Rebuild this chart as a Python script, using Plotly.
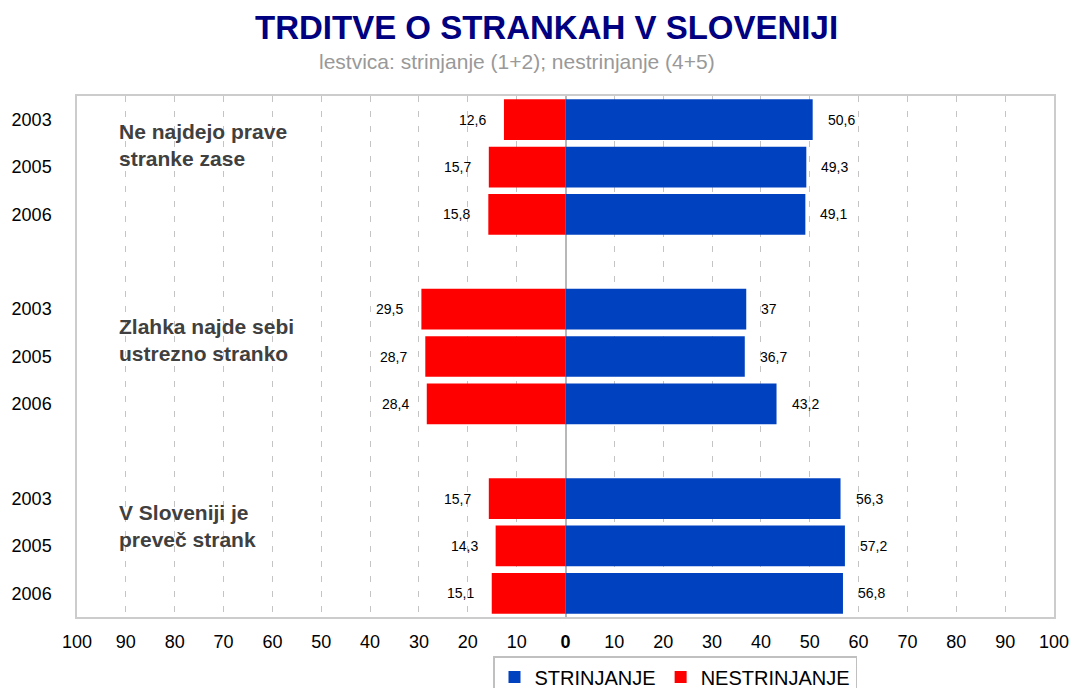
import plotly.graph_objects as go

# ---- data ----
groups = ["Ne najdejo prave<br>stranke zase",
          "Zlahka najde sebi<br>ustrezno stranko",
          "V Sloveniji je<br>preveč strank"]
years = ["2003", "2005", "2006"]
strinjanje = [50.6, 49.3, 49.1, 37, 36.7, 43.2, 56.3, 57.2, 56.8]
nestrinjanje = [12.6, 15.7, 15.8, 29.5, 28.7, 28.4, 15.7, 14.3, 15.1]
x_ticks = [-100, -90, -80, -70, -60, -50, -40, -30, -20, -10, 0,
           10, 20, 30, 40, 50, 60, 70, 80, 90, 100]

BLUE = "#0041C0"
RED = "#FF0000"
FONT = "Liberation Sans, Arial, sans-serif"

# row positions: three rows per group, one blank row between groups
ypos, ylab = [], []
for g in range(len(groups)):
    for i, yr in enumerate(years):
        ypos.append(g * 4 + i)
        ylab.append(yr)

def fmt(v):
    return ("%g" % v).replace(".", ",")

fig = go.Figure()
fig.add_trace(go.Bar(
    y=ypos, x=strinjanje, orientation="h", name="STRINJANJE",
    marker=dict(color=BLUE, line=dict(width=0)), width=0.86,
))
fig.add_trace(go.Bar(
    y=ypos, x=[-v for v in nestrinjanje], orientation="h", name="NESTRINJANJE",
    marker=dict(color=RED, line=dict(width=0)), width=0.86,
))

L, R, T, B = 77, 17, 96, 71
H = 688 - T - B
W = 1071 - L - R

annotations = []
for y, v in zip(ypos, strinjanje):
    annotations.append(dict(x=v, y=y, xref="x", yref="y", text=fmt(v),
                            showarrow=False, xanchor="left", xshift=13,
                            font=dict(size=14, color="#000000", family=FONT)))
for y, v in zip(ypos, nestrinjanje):
    annotations.append(dict(x=-v, y=y, xref="x", yref="y", text=fmt(v),
                            showarrow=False, xanchor="right", xshift=-16,
                            font=dict(size=14, color="#000000", family=FONT)))

group_y = [0.53, 4.65, 8.57]
for gy, gname in zip(group_y, groups):
    txt = "<b>" + gname.replace("<br>", "</b><br><b>") + "</b>"
    annotations.append(dict(x=-91.8, y=gy, xref="x", yref="y", text=txt,
                            showarrow=False, xanchor="left", yanchor="middle",
                            align="left",
                            font=dict(size=21, color="#404040", family=FONT)))

# title and subtitle (positions in pixels converted to paper coords)
annotations.append(dict(x=(546 - L) / W, y=1 + (T - 28) / H, xref="paper", yref="paper",
                        text="<b>TRDITVE O STRANKAH V SLOVENIJI</b>", yanchor="middle",
                        showarrow=False, font=dict(size=33, color="#000080", family=FONT)))
annotations.append(dict(x=(517 - L) / W, y=1 + (T - 62) / H, xref="paper", yref="paper",
                        text="lestvica: strinjanje (1+2); nestrinjanje (4+5)", yanchor="middle",
                        showarrow=False, font=dict(size=21, color="#999999", family=FONT)))

tick_text = [("<b>0</b>" if t == 0 else str(abs(t))) for t in x_ticks]

fig.update_layout(
    width=1071, height=688,
    margin=dict(l=L, r=R, t=T, b=B, autoexpand=False),
    paper_bgcolor="white", plot_bgcolor="white",
    barmode="overlay",
    font=dict(family=FONT, color="#000000"),
    showlegend=True,
    legend=dict(orientation="h", x=(493 - L) / W, y=(617 - 656) / H,
                xanchor="left", yanchor="top",
                bordercolor="#c0c0c0", borderwidth=1.5,
                font=dict(size=20, color="#000000", family=FONT),
                itemwidth=30, traceorder="normal"),
    annotations=annotations,
    xaxis=dict(range=[-100, 100], tickvals=x_ticks, ticktext=tick_text,
               automargin=False,
               showgrid=True, gridcolor="#c4c4c4", griddash="6px,9px", gridwidth=1,
               zeroline=True, zerolinecolor="#b8b8b8", zerolinewidth=1.5,
               showline=True, linecolor="#cccccc", linewidth=1.5, mirror=True,
               ticks="", ticklabelstandoff=8,
               tickfont=dict(size=18, color="#000000", family=FONT),
               fixedrange=True),
    yaxis=dict(range=[10.5, -0.5], tickvals=ypos, ticktext=ylab,
               automargin=False,
               showgrid=False, zeroline=False,
               showline=True, linecolor="#cccccc", linewidth=1.5, mirror=True,
               ticks="", ticklabelstandoff=20,
               tickfont=dict(size=18, color="#000000", family=FONT),
               fixedrange=True),
)

fig.write_html("out.html", config={"displayModeBar": False},
               post_script="document.body.style.margin='0';document.body.style.overflow='hidden';")
